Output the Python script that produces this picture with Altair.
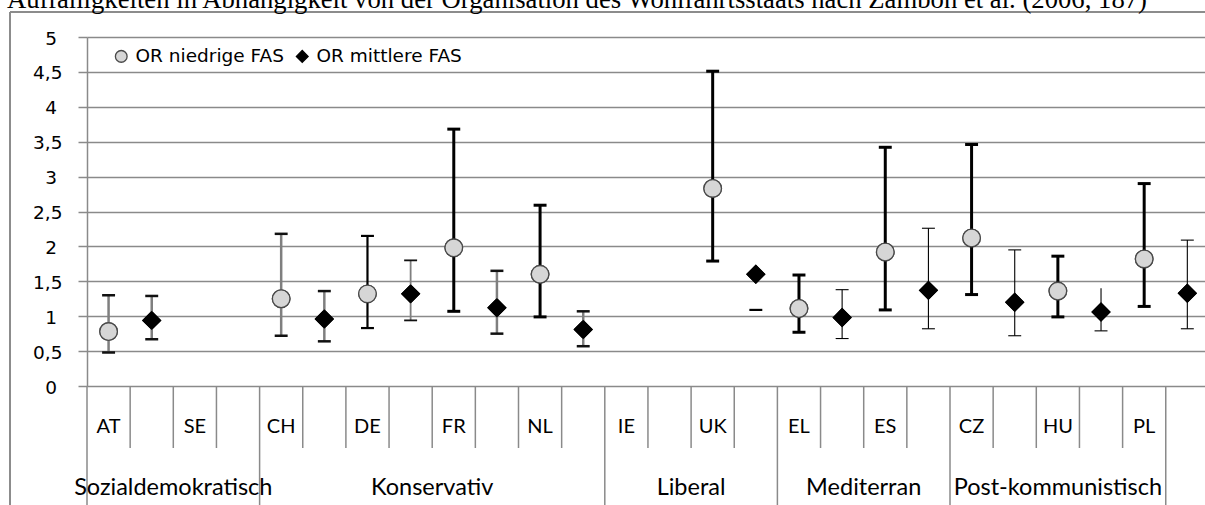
import altair as alt
import pandas as pd

TITEL = ("Auffälligkeiten in Abhängigkeit von der Organisation des "
         "Wohlfahrtsstaats nach Zambon et al. (2006, 187)")

# Länder in Reihenfolge der Kategorienachse
laender = ["AT", "SE", "CH", "DE", "FR", "NL", "IE", "UK", "EL", "ES", "CZ", "HU", "PL"]

# Odds Ratios mit Konfidenzintervall, niedrige FAS
niedrig_or = [0.78, None, 1.25, 1.32, 1.98, 1.60, None, 2.83, 1.11, 1.92, 2.12, 1.36, 1.82]
niedrig_lo = [0.48, None, 0.72, 0.83, 1.07, 0.99, None, 1.79, 0.77, 1.09, 1.31, 0.99, 1.14]
niedrig_hi = [1.30, None, 2.18, 2.15, 3.68, 2.59, None, 4.51, 1.59, 3.42, 3.46, 1.86, 2.90]

# Odds Ratios mit Konfidenzintervall, mittlere FAS
mittel_or = [0.94, None, 0.96, 1.32, 1.12, 0.81, None, 1.60, 0.98, 1.37, 1.20, 1.06, 1.33]
mittel_lo = [0.67, None, 0.64, 0.94, 0.75, 0.57, None, 1.09, 0.68, 0.82, 0.72, 0.79, 0.82]
mittel_hi = [1.29, None, 1.36, 1.80, 1.65, 1.07, None, None, 1.38, 2.26, 1.95, 1.40, 2.09]

# Strichart der Fehlerbalken je Land
niedrig_stil = ["grau", "", "grau", "schwarz", "fett", "fett", "", "fett",
                "fett", "fett", "fett", "fett", "fett"]
mittel_stil = ["grau", "", "grau", "grau_duenn", "grau", "grau", "", "schwarz",
               "duenn", "duenn", "duenn", "duenn", "duenn"]
mittel_kappe_oben = [True, False, True, True, True, True, False, False,
                     True, True, True, False, True]

# Wohlfahrtsstaatstypen und Anzahl der Kategorien, die sie überspannen
regime = ["Sozialdemokratisch", "Konservativ", "Liberal", "Mediterran", "Post-kommunistisch"]
regime_slots = [4, 8, 4, 4, 5]

y_ticks = [0, 0.5, 1, 1.5, 2, 2.5, 3, 3.5, 4, 4.5, 5]
y_tick_labels = ["0", "0,5", "1", "1,5", "2", "2,5", "3", "3,5", "4", "4,5", "5"]

SERIEN = ["OR niedrige FAS", "OR mittlere FAS"]

STIL = {
    "grau": ("#7f7f7f", "#111111", 2.5),
    "grau_duenn": ("#7f7f7f", "#111111", 1.8),
    "schwarz": ("#000000", "#000000", 2.2),
    "fett": ("#000000", "#000000", 3.0),
    "duenn": ("#000000", "#000000", 1.1),
}

# --- Geometrie ---
W, H = 1118, 349
PAD_L, PAD_T = 87, 37
SLOT_PX = 43.15
N_SLOTS = W / SLOT_PX
GRID = "#8a8a8a"
FONT = "Lato"
FONT_KLEIN = "DejaVu Sans"

# --- Datentabellen ---
zeilen = []
for i, land in enumerate(laender):
    serien = [
        (SERIEN[0], niedrig_or[i], niedrig_lo[i], niedrig_hi[i], niedrig_stil[i], True, 0),
        (SERIEN[1], mittel_or[i], mittel_lo[i], mittel_hi[i], mittel_stil[i], mittel_kappe_oben[i], 1),
    ]
    for serie, wert, lo, hi, stil, kappe_oben, versatz in serien:
        if wert is None:
            continue
        linie, kappe, breite = STIL[stil]
        zeilen.append(dict(
            land=land, serie=serie, slot=2 * i + versatz + 0.5,
            wert=wert, lo=lo, hi=hi, linie=linie, kappe=kappe, breite=breite,
            kappe_oben=kappe_oben,
        ))
punkte = pd.DataFrame(zeilen)

laender_df = pd.DataFrame({"land": laender,
                           "slot": [2 * i + 0.5 for i in range(len(laender))]})

grenzen_lang = [0]
for n in regime_slots:
    grenzen_lang.append(grenzen_lang[-1] + n)
regime_df = pd.DataFrame({
    "regime": regime,
    "mitte": [(a + b) / 2 for a, b in zip(grenzen_lang[:-1], grenzen_lang[1:])],
})
grenzen_df = pd.DataFrame({
    "b": list(range(0, grenzen_lang[-1] + 1)),
})
grenzen_df["lang"] = grenzen_df["b"].isin(grenzen_lang)

ticks_df = pd.DataFrame({"v": y_ticks, "label": y_tick_labels})
eins = pd.DataFrame({"k": [0]})

x_scale = alt.Scale(domain=[0, N_SLOTS], nice=False, zero=False)
y_scale = alt.Scale(domain=[0, 5], nice=False, zero=True)
y_axis = alt.Axis(values=y_ticks, labels=False, title=None, grid=True,
                  gridColor=GRID, gridWidth=1.5, tickColor=GRID, tickWidth=1.5,
                  tickSize=9, domainColor=GRID, domainWidth=1.5)


def xq(feld):
    return alt.X(f"{feld}:Q", scale=x_scale, axis=None)


def yq(feld):
    return alt.Y(f"{feld}:Q", scale=y_scale, axis=y_axis)


legende = alt.Legend(
    title=None, orient="none", legendX=25, legendY=10, direction="horizontal",
    labelFont=FONT_KLEIN, labelFontSize=18.5, labelColor="black", symbolSize=137,
    symbolStrokeWidth=1.3, labelOffset=5, columnPadding=9, padding=0)

# Punkte zuerst, damit Achse und Legende von hier stammen
marker = alt.Chart(punkte).mark_point(opacity=1, strokeWidth=1.3, size=310).encode(
    x=xq("slot"), y=yq("wert"),
    shape=alt.Shape("serie:N", scale=alt.Scale(domain=SERIEN, range=["circle", "diamond"]),
                    legend=legende),
    fill=alt.Fill("serie:N", scale=alt.Scale(domain=SERIEN, range=["#d6d6d6", "#000000"]),
                  legend=legende),
    stroke=alt.Stroke("serie:N", scale=alt.Scale(domain=SERIEN, range=["#4a4a4a", "#000000"]),
                      legend=legende),
)

# Rahmen des Diagrammbereichs
rahmen_oben = alt.Chart(eins).mark_rule(color="#8c8c8c", strokeWidth=2).encode(
    x=alt.value(10 - PAD_L), x2=alt.value(W + 5), y=alt.value(12 - PAD_T))
rahmen_links = alt.Chart(eins).mark_rule(color="#8c8c8c", strokeWidth=2).encode(
    x=alt.value(10 - PAD_L), y=alt.value(12 - PAD_T), y2=alt.value(H + 130))

titel = alt.Chart(pd.DataFrame({"t": [TITEL]})).mark_text(
    font="Liberation Serif", fontSize=26.7, align="left", baseline="alphabetic",
    color="black").encode(x=alt.value(7 - PAD_L), y=alt.value(8 - PAD_T), text="t:N")

# Kategoriengrenzen unterhalb der Achse
grenzen_kurz = alt.Chart(grenzen_df).transform_filter("!datum.lang").mark_rule(
    color=GRID, strokeWidth=1.5).encode(x=xq("b"), y=alt.value(H), y2=alt.value(H + 62))
grenzen_lang_l = alt.Chart(grenzen_df).transform_filter("datum.lang").mark_rule(
    color=GRID, strokeWidth=1.5).encode(x=xq("b"), y=alt.value(H), y2=alt.value(H + 130))

land_text = alt.Chart(laender_df).mark_text(
    font=FONT, fontSize=20, baseline="middle", align="center", color="black").encode(
    x=xq("slot"), y=alt.value(427 - PAD_T), text="land:N")

regime_text = alt.Chart(regime_df).mark_text(
    font=FONT, fontSize=23.5, baseline="middle", align="center", color="black").encode(
    x=xq("mitte"), y=alt.value(488 - PAD_T), text="regime:N")

tick_ganz = alt.Chart(ticks_df).transform_filter("indexof(datum.label, ',') < 0").mark_text(
    font=FONT_KLEIN, fontSize=18.5, align="right", baseline="middle", dy=1.5, color="black").encode(
    x=alt.value(57 - PAD_L), y=yq("v"), text="label:N")
tick_halb = alt.Chart(ticks_df).transform_filter("indexof(datum.label, ',') >= 0").mark_text(
    font=FONT_KLEIN, fontSize=18.5, align="right", baseline="middle", dy=1.5, color="black").encode(
    x=alt.value(62.5 - PAD_L), y=yq("v"), text="label:N")

# Fehlerbalken
balken = alt.Chart(punkte).transform_filter("datum.lo != null && datum.hi != null").mark_rule().encode(
    x=xq("slot"), y=yq("lo"), y2="hi:Q",
    color=alt.Color("linie:N", scale=None),
    strokeWidth=alt.StrokeWidth("breite:Q", scale=None))

KAPPE = 0.15
kappe_unten = alt.Chart(punkte).transform_filter("datum.lo != null").transform_calculate(
    xa=f"datum.slot - {KAPPE}", xb=f"datum.slot + {KAPPE}").mark_rule().encode(
    x=xq("xa"), x2="xb:Q", y=yq("lo"),
    color=alt.Color("kappe:N", scale=None),
    strokeWidth=alt.StrokeWidth("breite:Q", scale=None))
kappe_oben = alt.Chart(punkte).transform_filter(
    "datum.hi != null && datum.kappe_oben").transform_calculate(
    xa=f"datum.slot - {KAPPE}", xb=f"datum.slot + {KAPPE}").mark_rule().encode(
    x=xq("xa"), x2="xb:Q", y=yq("hi"),
    color=alt.Color("kappe:N", scale=None),
    strokeWidth=alt.StrokeWidth("breite:Q", scale=None))

# Zeichenreihenfolge: Balken unter den Punkten
chart = alt.layer(
    marker, rahmen_oben, rahmen_links, titel, grenzen_kurz, grenzen_lang_l,
    land_text, regime_text, tick_ganz, tick_halb,
    balken, kappe_unten, kappe_oben,
    marker.encode(shape=alt.Shape("serie:N", legend=None),
                  fill=alt.Fill("serie:N", legend=None),
                  stroke=alt.Stroke("serie:N", legend=None)),
).properties(
    width=W, height=H,
    padding={"left": PAD_L, "top": PAD_T, "right": 0, "bottom": 505 - PAD_T - H},
    autosize=alt.AutoSizeParams(type="none"),
    background="white",
).configure_view(stroke=None)

chart.save("out.html", embed_options={"renderer": "svg", "actions": False})
